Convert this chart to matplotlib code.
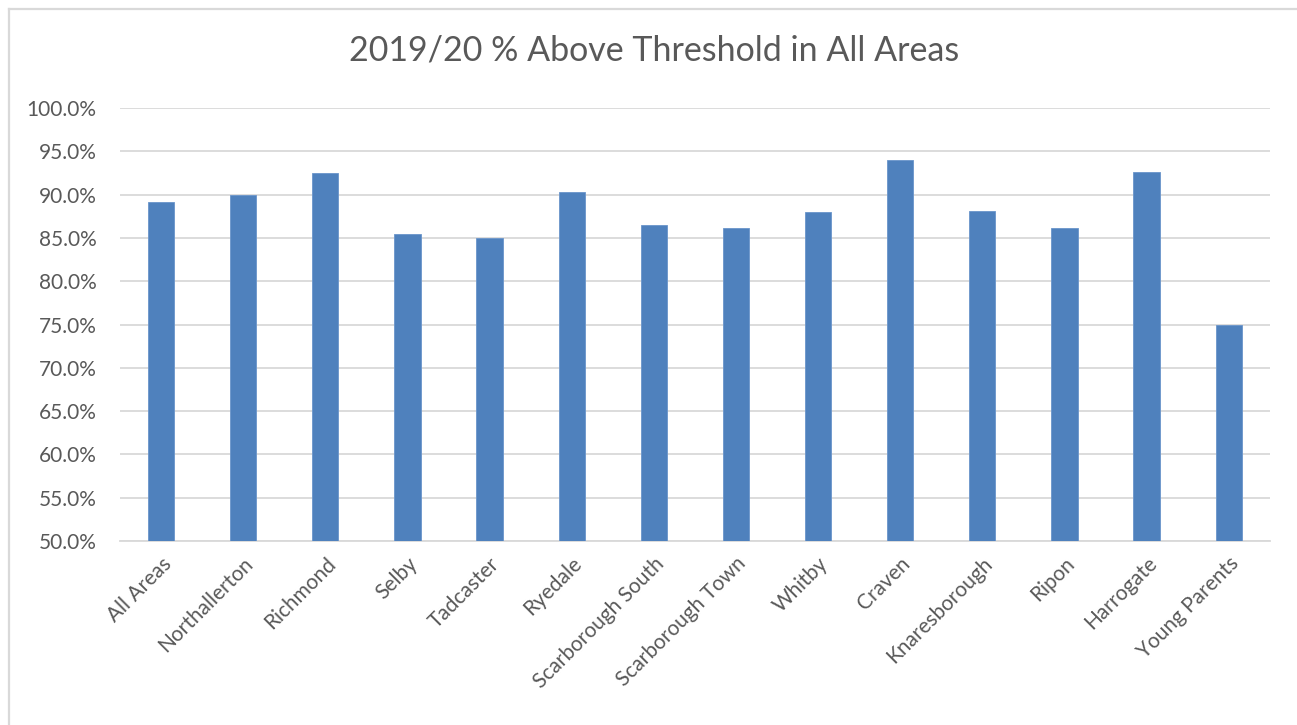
import matplotlib
matplotlib.use("Agg")
import matplotlib.pyplot as plt
from matplotlib.ticker import FuncFormatter, MultipleLocator
from matplotlib.lines import Line2D

# share of each area above threshold, 2019/20
areas = ["All Areas", "Northallerton", "Richmond", "Selby", "Tadcaster", "Ryedale",
         "Scarborough South", "Scarborough Town", "Whitby", "Craven",
         "Knaresborough", "Ripon", "Harrogate", "Young Parents"]
pct_above = [0.891, 0.899, 0.925, 0.854, 0.850, 0.903, 0.865,
             0.862, 0.880, 0.940, 0.881, 0.862, 0.926, 0.750]

plt.rcParams['font.family'] = ['Lato', 'DejaVu Sans']
text_col = "#595959"
grid_col = "#D9D9D9"

fig = plt.figure(figsize=(12.97, 7.25), dpi=100)
ax = fig.add_axes([0.0925, 0.2538, 0.8865, 0.5972])

x = range(len(areas))
ax.bar(x, pct_above, width=0.32, color="#4F81BD", edgecolor="#6A95CB", linewidth=0.6, zorder=3)

ax.set_ylim(0.5, 1.0)
ax.set_xlim(-0.5, len(areas) - 0.5)
ax.yaxis.set_major_locator(MultipleLocator(0.05))
ax.yaxis.set_major_formatter(FuncFormatter(lambda v, p: f"{v * 100:.1f}%"))
ax.grid(axis="y", color=grid_col, linewidth=1.3, zorder=0)

for s in ["top", "right", "left"]:
    ax.spines[s].set_visible(False)
ax.spines["bottom"].set_color(grid_col)
ax.spines["bottom"].set_linewidth(1.3)

ax.set_xticks(list(x))
ax.set_xticklabels(areas, rotation=45, ha="right", rotation_mode="anchor")
ax.tick_params(axis="both", length=0, labelsize=15, colors=text_col)
ax.tick_params(axis="y", pad=17)
ax.tick_params(axis="x", pad=9)

fig.text(0.504, 0.93, "2019/20 % Above Threshold in All Areas", ha="center", va="center",
         fontsize=24.5, color=text_col)

# chart frame
fig.add_artist(Line2D([9 / 1297, 1.0], [1 - 9 / 725, 1 - 9 / 725], color=grid_col, linewidth=1.6))
fig.add_artist(Line2D([9 / 1297, 9 / 1297], [0, 1 - 9 / 725], color=grid_col, linewidth=1.6))

fig.savefig("out.png", dpi=100, facecolor="white")
